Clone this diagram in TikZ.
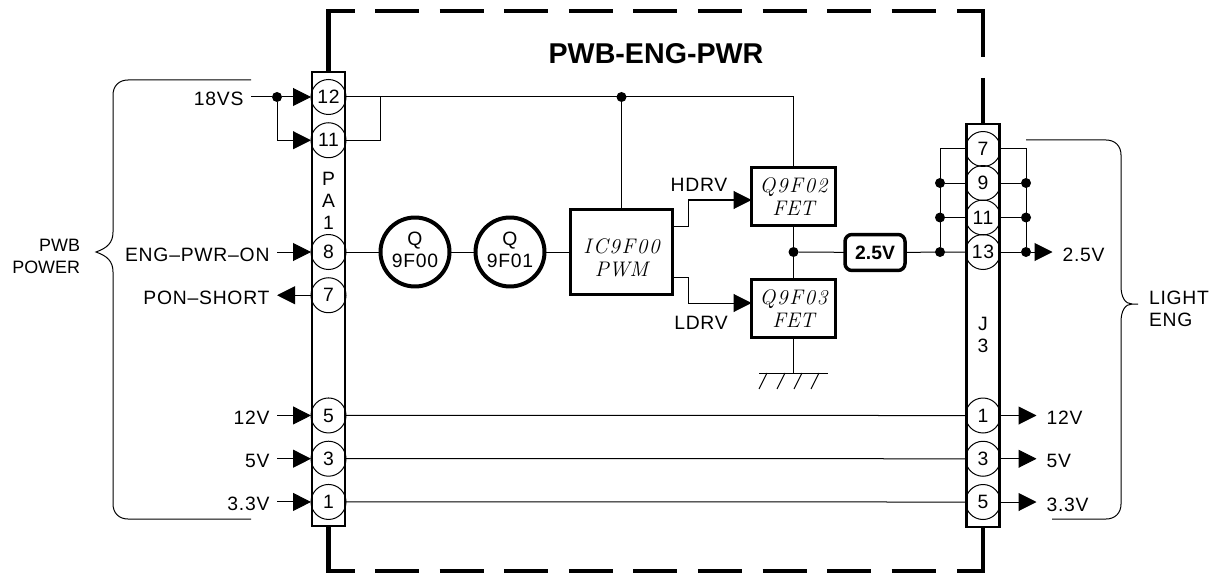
\documentclass[tikz,border=0pt]{standalone}
\usepackage{fontspec}
\usepackage{tikz}
\usetikzlibrary{shapes,arrows.meta,positioning,calc}
\setmainfont[LetterSpace=4]{Liberation Sans}
\newfontfamily\plainfont{Liberation Sans}
\newfontfamily\chipfont[LetterSpace=8]{Latin Modern Roman}
\newfontfamily\chipsubfont{Latin Modern Roman}

\begin{document}
\begin{tikzpicture}[
    x=0.02cm, y=-0.02cm,
    node distance=0.865cm,
    every node/.style={align=center, inner sep=0pt, outer sep=0pt, font=\fontsize{11}{12.5}\selectfont},
    wire/.style={line width=0.02cm},
    arrow/.style={wire, -{Triangle[length=0.36cm, width=0.36cm]}},
    frame/.style={line width=0.095cm},
    frametop/.style={frame, dash pattern=on 0.88cm off 0.412cm},
    header/.style={rectangle, draw, line width=0.05cm, minimum width=0.66cm},
    pin/.style={circle, draw, line width=0.02cm, minimum size=0.7cm},
    sig/.style={text height=0.36cm, text depth=0pt, inner xsep=0.15cm},
    dot/.style={circle, fill=black, minimum size=0.2cm},
    fet/.style={circle, draw, line width=0.08cm, minimum size=1.38cm, text depth=0.1cm},
    chipname/.style={font=\fontsize{12}{13}\selectfont\chipfont\itshape},
    chip/.style={chipname, rectangle, draw, line width=0.06cm},
    rail/.style={rectangle, rounded corners=0.14cm, draw, line width=0.07cm, minimum width=1.2cm, minimum height=0.72cm, font=\fontsize{11}{12.5}\selectfont\plainfont\bfseries},
    group/.style={font=\fontsize{10.2}{13}\selectfont\plainfont}
]
\useasboundingbox (0,0) rectangle (1212,574);

% Connectors on the board
\node[header, minimum height=9.09cm] (pa1) at (328.5,299) {};
\node[header, minimum height=8.06cm] (j3) at (983,325.4) {};

% Title
\node[font=\fontsize{16.3}{20}\selectfont\plainfont\bfseries] (title) at (656,54) {PWB-ENG-PWR};

% Pins of PA1
\node[pin] (p12) at (328.5,97) {12};
\node[pin, below of=p12] (p11) {11};
\node[pin] (p8) at (328.5,252) {8};
\node[pin, below of=p8] (p7) {7};
\node[pin, below of=p7, yshift=-1.54cm] (p5) {5};
\node[pin, below of=p5] (p3) {3};
\node[pin, below of=p3] (p1) {1};
\node (pa1name) at (328.5,200.5) {P\\A\\1};

% Pins of J3
\node[pin] (j7) at (983,149) {7};
\node[pin] (j9) at (983,183) {9};
\node[pin] (j11) at (983,217.5) {11};
\node[pin] (j13) at (983,252) {13};
\node[pin] (j1) at (983,415.5) {1};
\node[pin] (j3b) at (983,458.75) {3};
\node[pin] (j5) at (983,502) {5};
\node (j3name) at (983,334.5) {J\\3};

% Power stage
\node[fet] (q00) at (415,252) {Q\\9F00};
\node[fet] (q01) at (510,252) {Q\\9F01};
\node[chip, minimum width=2.04cm, minimum height=1.7cm] (ic) at (621.5,252) {};
\node[chipname] (icname) at (621.5,258) {IC9F00\\{\chipsubfont\itshape PWM}};
\node[chip, minimum width=1.68cm, minimum height=1.16cm] (q02) at (793.5,196.5) {Q9F02\\{\chipsubfont\itshape FET}};
\node[chip, minimum width=1.68cm, minimum height=1.16cm] (q03) at (793.5,308.5) {Q9F03\\{\chipsubfont\itshape FET}};
\node[rail] (v25) at (875,252.5) {2.5V};
\node (hdrv) at (699,185) {HDRV};
\node (ldrv) at (701,323) {LDRV};

% Signals on the left
\node[sig, left=1.2cm of p12] (s18) {18VS};
\node[sig, left=0.68cm of p8] (son) {ENG--PWR--ON};
\node[sig, left=0.68cm of p7] (sshort) {PON--SHORT};
\node[sig, left=0.68cm of p5] (s12) {12V};
\node[sig, left=0.68cm of p3] (s5) {5V};
\node[sig, left=0.68cm of p1] (s33) {3.3V};

% Signals on the right
\node[sig, inner xsep=0.2cm, right=1.04cm of j13] (o25) {2.5V};
\node[sig, inner xsep=0.2cm, right=0.72cm of j1] (o12) {12V};
\node[sig, inner xsep=0.2cm, right=0.72cm of j3b] (o5) {5V};
\node[sig, inner xsep=0.2cm, right=0.72cm of j5] (o33) {3.3V};

% Junctions
\node[dot] (d18) at (277,97) {};
\node[dot] (d12) at (621.5,97) {};
\node[dot] (dsw) at (793.5,252) {};
\node[dot] (l9) at (940,183) {};
\node[dot] (l11) at (940,217.5) {};
\node[dot] (l13) at (940,252) {};
\node[dot] (r9) at (1026,183) {};
\node[dot] (r11) at (1026,217.5) {};
\node[dot] (r13) at (1026,252) {};
\coordinate (c11) at (380,97);
\coordinate (l7) at (940,149);
\coordinate (r7) at (1026,149);
\coordinate (gnd) at (793.5,373);

% Dashed board outline
\draw[frame] (pa1.north) |- (355,11);
\draw[frametop] (375,11) -- (936,11);
\draw[frame] (957,11) -| (983,57);
\draw[frame] (983,78) -- (j3.north);
\draw[frame] (pa1.south) |- (355,571);
\draw[frametop] (375,571) -- (936,571);
\draw[frame] (957,571) -| (j3.south);

% Left inputs
\draw[wire] (s18) -- (d18);
\draw[arrow] (d18) -- (p12.west);
\draw[arrow] (d18) |- (p11.west);
\draw[arrow] (son) -- (p8.west);
\draw[arrow] (p7.west) -- (sshort);
\draw[arrow] (s12) -- (p5.west);
\draw[arrow] (s5) -- (p3.west);
\draw[arrow] (s33) -- (p1.west);

% Supply and drive
\draw[wire] (p12.east) -| (q02.north);
\draw[wire] (p11.east) -| (c11);
\draw[wire] (d12) -- (ic.north);
\draw[wire] (p8.east) -- (q00);
\draw[wire] (q00) -- (q01);
\draw[wire] (q01) -- (ic.west);
\draw[arrow] ([yshift=0.52cm]ic.east) -- ++(16,0) |- ([yshift=-0.07cm]q02.west);
\draw[arrow] ([yshift=-0.52cm]ic.east) -- ++(16,0) |- ([yshift=0.11cm]q03.west);
\draw[wire] (q02.south) -- (q03.north);
\draw[wire] (dsw) -- (v25);
\draw[wire] (v25) -- (j13.west);

% Ground
\draw[wire] (q03.south) -- (gnd);
\draw[wire] (759,373) -- (828,373);
\draw[wire] (767,373) -- (759,389) (785,373) -- (777,389) (802,373) -- (794,389) (819,373) -- (811,389);

% Strapped pins of J3
\draw[wire] (j7.west) -- (l7) -- (l13);
\draw[wire] (j9.west) -- (l9);
\draw[wire] (j11.west) -- (l11);
\draw[wire] (j7.east) -- (r7) -- (r13);
\draw[wire] (j9.east) -- (r9);
\draw[wire] (j11.east) -- (r11);
\draw[wire] (j13.east) -- (r13);
\draw[arrow] (r13) -- (o25.west);

% Through rails
\draw[wire] (p5.east) -- (j1.west);
\draw[wire] (p3.east) -- (j3b.west);
\draw[wire] (p1.east) -- (j5.west);
\draw[arrow] (j1.east) -- (o12.west);
\draw[arrow] (j3b.east) -- (o5.west);
\draw[arrow] (j5.east) -- (o33.west);

% Braces
\draw[wire] (251,80) -- (128,80) .. controls (119,80) and (113,86) .. (113,95) -- (113,232) .. controls (113,243) and (107,248) .. (96,252) .. controls (107,256) and (113,261) .. (113,272) -- (113,504) .. controls (113,513) and (119,519) .. (128,519) -- (251,519);
\draw[wire] (1026,140) -- (1106,140) .. controls (1115,140) and (1121,146) .. (1121,155) -- (1121,286) .. controls (1121,297) and (1125,304) .. (1132,304) -- (1138,304);
\draw[wire] (1132,304) .. controls (1125,304) and (1121,311) .. (1121,322) -- (1121,504) .. controls (1121,513) and (1115,519) .. (1106,519) -- (1052,519);

% Group names
\node[group, anchor=east, align=right] (pwbpower) at (80,256.5) {PWB\\POWER};
\node[anchor=west, align=left] (lighteng) at (1149,308.5) {LIGHT\\ENG};

\end{tikzpicture}
\end{document}
